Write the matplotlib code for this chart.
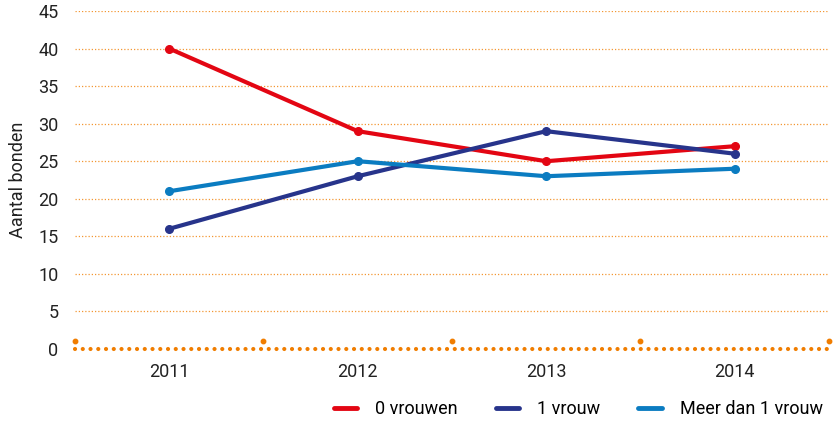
import matplotlib.pyplot as plt
import matplotlib.transforms as mtransforms
from matplotlib.lines import Line2D
import numpy as np

years = ["2011", "2012", "2013", "2014"]
nul_vrouwen = [40, 29, 25, 27]
een_vrouw = [16, 23, 29, 26]
meer_vrouwen = [21, 25, 23, 24]

red = "#E30613"
navy = "#27348B"
blue = "#0B7CC1"
orange = "#F07D00"

plt.rcParams['font.family'] = ['Roboto', 'DejaVu Sans']

fig = plt.figure(figsize=(8.35, 4.24), dpi=100)
ax = fig.add_axes([0.0898, 0.177, 0.903, 0.797])

x = np.arange(len(years))
series = [(nul_vrouwen, red, "0 vrouwen"),
          (een_vrouw, navy, "1 vrouw"),
          (meer_vrouwen, blue, "Meer dan 1 vrouw")]
handles = []
for vals, col, lab in series:
    ax.plot(x, vals, color=col, lw=3, marker='o', ms=5.5, zorder=3)
    handles.append(Line2D([], [], color=col, lw=3.5, solid_capstyle='round', label=lab))

ax.set_xlim(-0.5, len(years) - 0.5)
ax.set_ylim(0, 45)
ax.set_yticks(range(0, 46, 5))
ax.set_xticks(x)
ax.set_xticklabels(years)

for y in range(5, 46, 5):
    ax.axhline(y, color=orange, lw=0.9, ls=(0, (1, 1.6)), alpha=0.8, zorder=1)

# dotted base line plus boundary dots
ax.axhline(0, color=orange, lw=3, ls=(0, (0.01, 1.85)), dash_capstyle='round', zorder=2, clip_on=False)
bounds = np.arange(len(years) + 1) - 0.5
trans = mtransforms.blended_transform_factory(ax.transData, ax.transAxes)
ax.plot(bounds, [0.025] * len(bounds), ls='none', marker='o', ms=3.2, color=orange,
        transform=trans, clip_on=False)

for s in ax.spines.values():
    s.set_visible(False)
ax.tick_params(axis='both', length=0, labelsize=13, colors='#222222')
ax.tick_params(axis='y', pad=12)
ax.tick_params(axis='x', pad=10)
ax.set_ylabel("Aantal bonden", fontsize=13, color='#222222', labelpad=8)

fig.legend(handles=handles, loc='lower right', bbox_to_anchor=(1.005, -0.025), ncol=3, frameon=False,
           fontsize=13, handlelength=1.3, columnspacing=2.1, handletextpad=1.0)

fig.savefig("out.png", dpi=100)
